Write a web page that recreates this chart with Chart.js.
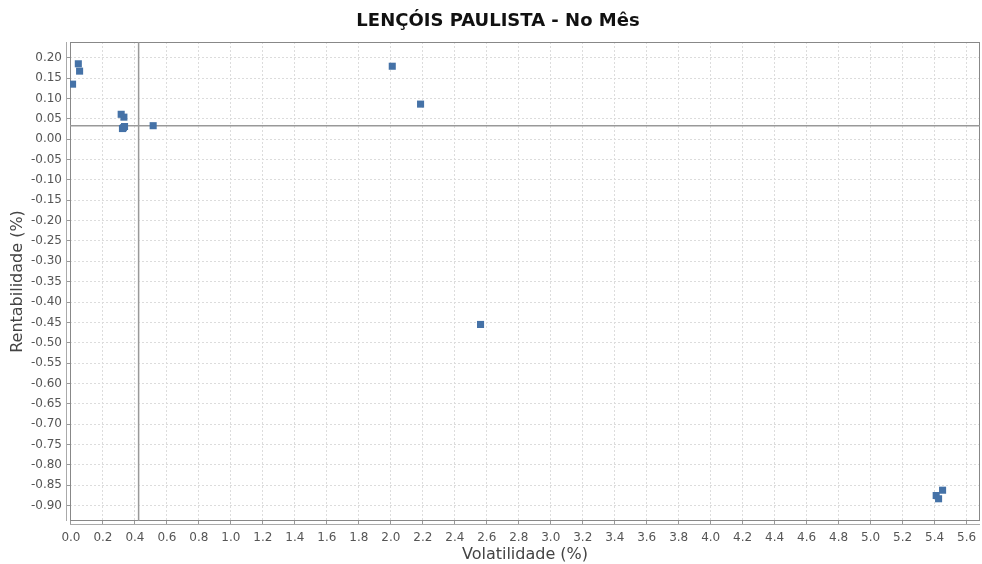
<!DOCTYPE html>
<html>
<head>
<meta charset="utf-8">
<script src="https://cdn.jsdelivr.net/npm/chart.js@4/dist/chart.umd.min.js"></script>
<style>
  html, body { margin: 0; padding: 0; background: #fff; }
  #wrap { width: 982px; height: 564px; }
</style>
</head>
<body>
<div id="wrap"><canvas id="Chart0"></canvas></div>
<script>
// valores
const volatilidade  = [0.01, 0.046, 0.054, 0.314, 0.331, 0.322, 0.335, 0.328, 0.514, 2.009, 2.186, 2.561, 5.41, 5.425, 5.45];
const rentabilidade = [0.135, 0.185, 0.167, 0.061, 0.054, 0.026, 0.031, 0.028, 0.033, 0.179, 0.086, -0.455, -0.875, -0.883, -0.862];

// linhas de referencia
const refVol = 0.423;
const refRent = 0.033;

const xMin = -0.006, xMax = 5.684;
const yMin = -0.9376, yMax = 0.2385;

const points = volatilidade.map((v, i) => ({ x: v, y: rentabilidade[i] }));

const plotBorder = {
    id: 'plotBorder',
    beforeDatasetsDraw(chart) {
        const { ctx, chartArea: a } = chart;
        ctx.save();
        ctx.strokeStyle = '#888';
        ctx.lineWidth = 1;
        ctx.strokeRect(a.left + 0.5, a.top + 0.5, a.right - a.left - 1, a.bottom - a.top - 1);
        // eixos deslocados (estilo jfreechart)
        ctx.strokeStyle = '#aaa';
        ctx.beginPath();
        ctx.moveTo(a.left - 3.5, a.top);
        ctx.lineTo(a.left - 3.5, a.bottom);
        ctx.moveTo(a.left, a.bottom + 3.5);
        ctx.lineTo(a.right, a.bottom + 3.5);
        ctx.stroke();
        ctx.restore();
    }
};

const canvas = document.getElementById('Chart0').getContext('2d');
const chart = new Chart(canvas, {
    type: 'scatter',
    data: {
        datasets: [
            {
                type: 'line',
                data: [{ x: xMin, y: refRent }, { x: xMax, y: refRent }],
                borderColor: '#999',
                borderWidth: 1.5,
                pointRadius: 0,
                order: 2
            },
            {
                type: 'line',
                data: [{ x: refVol, y: yMin }, { x: refVol, y: yMax }],
                borderColor: '#999',
                borderWidth: 1.5,
                pointRadius: 0,
                order: 2
            },
            {
                data: points,
                pointStyle: 'rect',
                pointRadius: 5,
                backgroundColor: '#4572A7',
                borderColor: '#4572A7',
                borderWidth: 0,
                order: 1
            }
        ]
    },
    options: {
        responsive: true,
        maintainAspectRatio: false,
        animation: false,
        layout: { autoPadding: false, padding: { left: 16, right: 2, top: 0, bottom: 0 } },
        plugins: {
            legend: { display: false },
            tooltip: { enabled: false },
            title: {
                display: true,
                text: 'LENÇÓIS PAULISTA - No Mês',
                color: '#111',
                font: { family: 'DejaVu Sans', size: 18, weight: 'bold', lineHeight: 1.2 },
                padding: { top: 11, bottom: 9.4 }
            }
        },
        scales: {
            x: {
                type: 'linear',
                min: xMin,
                max: xMax,
                ticks: {
                    stepSize: 0.2,
                    includeBounds: false,
                    autoSkip: false,
                    maxRotation: 0,
                    color: '#555',
                    padding: 6,
                    font: { family: 'DejaVu Sans', size: 12 },
                    callback: v => (Math.abs(v) < 1e-9 ? 0 : v).toFixed(1)
                },
                grid: {
                    color: '#dcdcdc',
                    borderDash: [2, 2],
                    tickBorderDash: [],
                    tickColor: '#999',
                    tickLength: 4
                },
                border: { display: false, dash: [2, 2] },
                title: {
                    display: true,
                    text: 'Volatilidade (%)',
                    color: '#444',
                    font: { family: 'DejaVu Sans', size: 16, lineHeight: 1.2 },
                    padding: { top: 0, bottom: 0 }
                },
                afterFit(scale) {
                    scale.height = 43;
                    scale.paddingLeft = 0;
                    scale.paddingRight = 0;
                }
            },
            y: {
                type: 'linear',
                min: yMin,
                max: yMax,
                ticks: {
                    stepSize: 0.05,
                    includeBounds: false,
                    autoSkip: false,
                    color: '#555',
                    padding: 4,
                    font: { family: 'DejaVu Sans', size: 12 },
                    callback: v => (Math.abs(v) < 1e-9 ? 0 : v).toFixed(2)
                },
                grid: {
                    color: '#dcdcdc',
                    borderDash: [2, 2],
                    tickBorderDash: [],
                    tickColor: '#999',
                    tickLength: 4
                },
                border: { display: false, dash: [2, 2] },
                title: {
                    display: true,
                    text: 'Rentabilidade (%)',
                    color: '#444',
                    font: { family: 'DejaVu Sans', size: 16, lineHeight: 1.2 },
                    padding: { top: -7.6, bottom: 0 }
                },
                afterFit(scale) {
                    scale.width = 54;
                    scale.paddingTop = 0;
                    scale.paddingBottom = 0;
                }
            }
        }
    },
    plugins: [plotBorder]
});
</script>
</body>
</html>
